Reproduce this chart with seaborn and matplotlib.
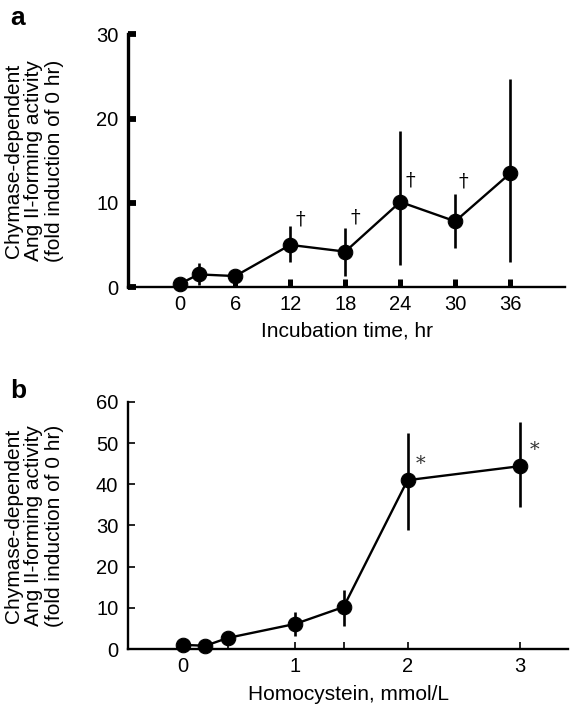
import numpy as np
import pandas as pd
import matplotlib
matplotlib.use("Agg")
import matplotlib.pyplot as plt
import seaborn as sns

# panel a: incubation time course
time_hr = [0, 2, 6, 12, 18, 24, 30, 36]
act_mean = [0.4, 1.5, 1.3, 5.0, 4.2, 10.1, 7.8, 13.5]
act_lo = [0.4, 0.2, 1.3, 3.0, 1.3, 2.6, 4.6, 3.0]
act_hi = [0.4, 2.8, 1.3, 7.3, 7.0, 18.5, 11.1, 24.7]
dagger_hr = [13.1, 19.1, 25.1, 30.9]
dagger_y = [8.0, 8.2, 12.7, 12.5]
time_ticks = [0, 6, 12, 18, 24, 30, 36]

# panel b: homocystein dose response
hcy_mm = [0, 0.2, 0.4, 1, 1.43, 2, 3]
dose_mean = [1.0, 0.8, 2.7, 6.1, 10.2, 41.0, 44.4]
dose_lo = [1.0, 0.8, 1.5, 3.2, 5.6, 28.9, 34.5]
dose_hi = [1.0, 0.8, 3.6, 9.0, 14.3, 52.4, 55.1]
star_mm = [2.12, 3.13]
star_y = [45.0, 48.3]
hcy_ticks = [0, 0.4, 1, 1.43, 2, 3]
hcy_ticklabels = ["0", "", "1", "", "2", "3"]

ylab = "Chymase-dependent\nAng II-forming activity\n(fold induction of 0 hr)"

sns.set_style("ticks")
plt.rcParams['font.family'] = ['Liberation Sans', 'DejaVu Sans']
for k in ['text.color', 'axes.labelcolor', 'xtick.color', 'ytick.color', 'axes.edgecolor']:
    plt.rcParams[k] = 'black'
fs_tick = 14.5
fs_lab = 15

fig = plt.figure(figsize=(5.7, 7.08), dpi=100)
ax1 = fig.add_axes([0.2246, 0.5946, 0.767, 0.357])
ax2 = fig.add_axes([0.2246, 0.0833, 0.772, 0.349])

df_a = pd.DataFrame({'time': time_hr, 'act': act_mean})
sns.lineplot(x='time', y='act', data=df_a, ax=ax1, color='black', lw=1.7,
             marker='o', markersize=10.5, markeredgecolor='black', clip_on=False, zorder=3)
ax1.vlines(time_hr, act_lo, act_hi, color='black', lw=1.9, zorder=2)
for tx, ty in zip(dagger_hr, dagger_y):
    ax1.text(tx, ty, "\u2020", family='DejaVu Serif', fontsize=14, ha='center', va='center')
ax1.set_xlim(-5.7, 42)
ax1.set_ylim(0, 30)
ax1.set_xticks(time_ticks)
ax1.set_yticks([0, 10, 20, 30])
ax1.tick_params(axis='x', direction='in', length=5.5, width=3.6, labelsize=fs_tick, pad=6)
ax1.tick_params(axis='y', direction='in', length=6, width=4.2, labelsize=fs_tick, pad=7)
ax1.spines['left'].set_linewidth(2.4)
ax1.spines['bottom'].set_linewidth(1.7)
ax1.spines['top'].set_visible(False)
ax1.spines['right'].set_visible(False)
ax1.set_xlabel("Incubation time, hr", fontsize=fs_lab, labelpad=5)
ax1.set_ylabel(ylab, fontsize=fs_lab, linespacing=1.1, ha='center', va='center')
ax1.yaxis.set_label_coords(-0.216, 0.5)
fig.text(0.0175, 0.9647, "a", fontsize=19, fontweight='bold', va='baseline')

df_b = pd.DataFrame({'hcy': hcy_mm, 'act': dose_mean})
sns.lineplot(x='hcy', y='act', data=df_b, ax=ax2, color='black', lw=1.7,
             marker='o', markersize=10.5, markeredgecolor='black', clip_on=False, zorder=3)
ax2.vlines(hcy_mm, dose_lo, dose_hi, color='black', lw=1.9, zorder=2)
for sx, sy in zip(star_mm, star_y):
    ax2.text(sx, sy, "*", family='DejaVu Serif', fontsize=14, color='#333333',
             ha='center', va='center')
ax2.set_xlim(-0.49, 3.43)
ax2.set_ylim(0, 60)
ax2.set_xticks(hcy_ticks)
ax2.set_xticklabels(hcy_ticklabels)
ax2.set_yticks([0, 10, 20, 30, 40, 50, 60])
ax2.tick_params(axis='x', direction='in', length=5, width=1.2, labelsize=fs_tick, pad=6)
ax2.tick_params(axis='y', direction='in', length=5, width=1.2, labelsize=fs_tick, pad=7)
ax2.spines['left'].set_linewidth(1.7)
ax2.spines['bottom'].set_linewidth(1.7)
ax2.spines['top'].set_visible(False)
ax2.spines['right'].set_visible(False)
ax2.set_xlabel("Homocystein, mmol/L", fontsize=fs_lab, labelpad=6)
ax2.set_ylabel(ylab, fontsize=fs_lab, linespacing=1.1, ha='center', va='center')
ax2.yaxis.set_label_coords(-0.2145, 0.5)
fig.text(0.0175, 0.4379, "b", fontsize=19, fontweight='bold', va='baseline')

plt.savefig("out.png", dpi=100)
